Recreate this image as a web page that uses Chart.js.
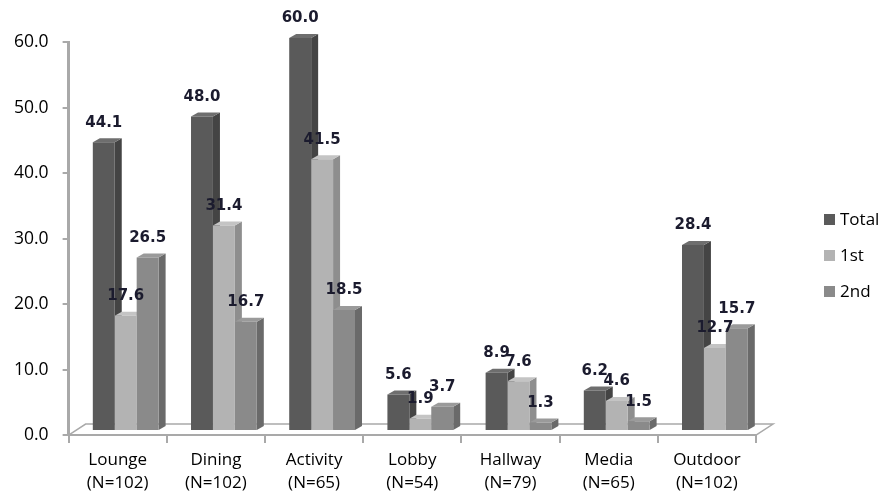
<!DOCTYPE html>
<html>
<head>
<meta charset="utf-8">
<script src="https://cdn.jsdelivr.net/npm/chart.js@4.4.0/dist/chart.umd.min.js"></script>
<style>
  html, body { margin:0; padding:0; background:#fff; }
  #wrap { width:882px; height:494px; position:relative; }
</style>
</head>
<body>
<div id="wrap"><canvas id="chart"></canvas></div>
<script>
const categories = [
    ['Lounge', '(N=102)'], ['Dining', '(N=102)'], ['Activity', '(N=65)'], ['Lobby', '(N=54)'],
    ['Hallway', '(N=79)'], ['Media', '(N=65)'], ['Outdoor', '(N=102)']
];
const totalValues  = [44.1, 48.0, 60.0, 5.6, 8.9, 6.2, 28.4];
const firstValues  = [17.6, 31.4, 41.5, 1.9, 7.6, 4.6, 12.7];
const secondValues = [26.5, 16.7, 18.5, 3.7, 1.3, 1.5, 15.7];
const yTicks = [0, 10, 20, 30, 40, 50, 60];

const seriesColors = ['#5a5a5a', '#b3b3b3', '#8a8a8a'];
const sideColors   = ['#444444', '#8e8e8e', '#6a6a6a'];
const topColors    = ['#6e6e6e', '#c4c4c4', '#9a9a9a'];
const axisGrey = '#a9a9a9';
const shiftX = 8, shiftY = -4;   // perspective nudge of the bar group

// 3D floor under the bars, hung off the chart area
const floorPlugin = {
    id: 'floor',
    beforeDatasetsDraw(chart) {
        const { ctx, chartArea: a } = chart;
        ctx.save();
        ctx.strokeStyle = axisGrey;
        ctx.lineWidth = 1.5;
        ctx.beginPath();
        ctx.moveTo(a.left, a.bottom); ctx.lineTo(a.left + 17, a.bottom - 11);
        ctx.lineTo(a.right + 17, a.bottom - 11); ctx.lineTo(a.right, a.bottom);
        ctx.stroke();
        ctx.restore();
    }
};

// fake 3D side/top faces, drawn off each bar element
const depthPlugin = {
    id: 'depth',
    beforeDatasetsDraw(chart) {
        const ctx = chart.ctx, dx = 7, dy = 4;
        ctx.save();
        ctx.translate(shiftX, shiftY);
        chart.data.datasets.forEach((ds, i) => {
            chart.getDatasetMeta(i).data.forEach(bar => {
                const r = bar.x + bar.width / 2, l = bar.x - bar.width / 2;
                ctx.fillStyle = sideColors[i];
                ctx.beginPath();
                ctx.moveTo(r, bar.y); ctx.lineTo(r + dx, bar.y - dy);
                ctx.lineTo(r + dx, bar.base - dy); ctx.lineTo(r, bar.base);
                ctx.closePath(); ctx.fill();
                ctx.fillStyle = topColors[i];
                ctx.beginPath();
                ctx.moveTo(l, bar.y); ctx.lineTo(l + dx, bar.y - dy);
                ctx.lineTo(r + dx, bar.y - dy); ctx.lineTo(r, bar.y);
                ctx.closePath(); ctx.fill();
            });
        });
    },
    afterDatasetsDraw(chart) {
        chart.ctx.restore();
    }
};

const valueLabels = {
    id: 'valueLabels',
    afterDatasetsDraw(chart) {
        const ctx = chart.ctx;
        ctx.save();
        ctx.font = 'bold 15px "DejaVu Sans"';
        ctx.fillStyle = '#1b1b2e';
        ctx.textAlign = 'center';
        ctx.textBaseline = 'bottom';
        chart.data.datasets.forEach((ds, i) => {
            chart.getDatasetMeta(i).data.forEach((bar, j) => {
                ctx.fillText(ds.data[j].toFixed(1), bar.x + shiftX, bar.y - 16);
            });
        });
        ctx.restore();
    }
};

const sideLegend = {
    id: 'sideLegend',
    afterDraw(chart) {
        const ctx = chart.ctx;
        ctx.save();
        ctx.font = '17px "Open Sans"';
        ctx.textBaseline = 'middle';
        chart.data.datasets.forEach((ds, i) => {
            const y = 219 + i * 36;
            ctx.fillStyle = ds.backgroundColor;
            ctx.fillRect(824, y - 5, 11, 11);
            ctx.fillStyle = '#000';
            ctx.fillText(ds.label, 840, y + 1);
        });
        ctx.restore();
    }
};

new Chart(document.getElementById('chart'), {
    type: 'bar',
    data: {
        labels: categories,
        datasets: [
            { label: 'Total', data: totalValues,  backgroundColor: seriesColors[0] },
            { label: '1st',   data: firstValues,  backgroundColor: seriesColors[1] },
            { label: '2nd',   data: secondValues, backgroundColor: seriesColors[2] }
        ]
    },
    options: {
        responsive: true, maintainAspectRatio: false, animation: false,
        layout: { padding: { top: 42, right: 126, left: 0, bottom: 0 } },
        datasets: { bar: { categoryPercentage: 0.67, barPercentage: 1.0 } },
        plugins: { legend: { display: false }, tooltip: { enabled: false } },
        scales: {
            x: {
                afterFit: s => { s.height -= 7; },
                grid: { drawOnChartArea: false, color: axisGrey, lineWidth: 2, tickLength: 8, offset: true },
                border: { color: axisGrey, width: 2 },
                ticks: { color: '#000', font: { family: '"Open Sans"', size: 17, lineHeight: 1.35 }, padding: 6, maxRotation: 0 }
            },
            y: {
                min: 0, max: 60,
                afterBuildTicks: axis => { axis.ticks = yTicks.map(v => ({ value: v })); },
                grid: { drawOnChartArea: false, color: axisGrey, lineWidth: 2, tickLength: 6 },
                border: { color: axisGrey, width: 3 },
                ticks: { color: '#000', font: { family: '"Open Sans"', size: 17.5 }, padding: 14, callback: v => v.toFixed(1) }
            }
        }
    },
    plugins: [floorPlugin, depthPlugin, valueLabels, sideLegend]
});
</script>
</body>
</html>
